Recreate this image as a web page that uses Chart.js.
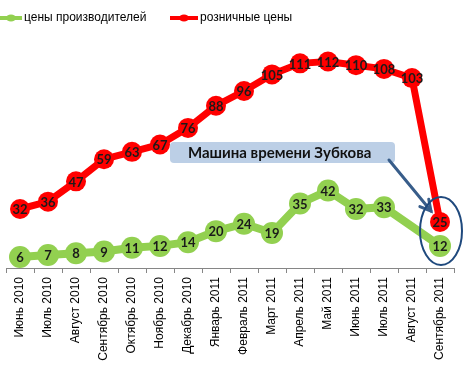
<!DOCTYPE html>
<html lang="ru">
<head>
  <meta charset="UTF-8">
  <title>Цены производителей и розничные цены</title>
  <script src="https://cdn.jsdelivr.net/npm/chart.js"></script>
  <style>
    html, body { margin: 0; padding: 0; background: #fff; overflow: hidden; }
    #wrap { position: relative; width: 464px; height: 368px; overflow: hidden; }
    #chart { position: absolute; left: -5px; top: 0; }
  </style>
</head>
<body>
<div id="wrap">
  <canvas id="chart" width="470" height="368"></canvas>
</div>
<script>
  const months = ['Июнь 2010', 'Июль 2010', 'Август 2010', 'Сентябрь 2010', 'Октябрь 2010', 'Ноябрь 2010',
    'Декабрь 2010', 'Январь 2011', 'Февраль 2011', 'Март 2011', 'Апрель 2011', 'Май 2011',
    'Июнь 2011', 'Июль 2011', 'Август 2011', 'Сентябрь 2011'];
  const producerPrices = [6, 7, 8, 9, 11, 12, 14, 20, 24, 19, 35, 42, 32, 33, null, 12];
  const retailPrices = [32, 36, 47, 59, 63, 67, 76, 88, 96, 105, 111, 112, 110, 108, 103, 25];
  const seriesNames = ['цены производителей', 'розничные цены'];
  const calloutText = 'Машина времени Зубкова';

  const GREEN = '#92D050';
  const RED = '#FF0000';
  const OFF = 5; // canvas is shifted 5px left of the page

  // value labels in the middle of each marker
  const valueLabels = {
    id: 'valueLabels',
    afterDatasetsDraw(chart) {
      const ctx = chart.ctx;
      ctx.save();
      ctx.font = 'bold 13px Lato';
      ctx.fillStyle = '#1a1a1a';
      ctx.textAlign = 'center';
      ctx.textBaseline = 'middle';
      chart.data.datasets.forEach((ds, i) => {
        chart.getDatasetMeta(i).data.forEach((pt, j) => {
          if (ds.data[j] == null) return;
          ctx.fillText(String(ds.data[j]), pt.x, pt.y + 1);
        });
      });
      ctx.restore();
    }
  };

  // legend in the top left corner, line with a dot like Excel
  const lineLegend = {
    id: 'lineLegend',
    afterDraw(chart) {
      const ctx = chart.ctx;
      ctx.save();
      ctx.translate(OFF, 0);
      const items = [
        { x: 0, w: 22, color: GREEN, text: seriesNames[0] },
        { x: 170, w: 28, color: RED, text: seriesNames[1] }
      ];
      const y = 18;
      ctx.font = '12px "Liberation Sans"';
      ctx.textBaseline = 'middle';
      items.forEach(it => {
        ctx.strokeStyle = it.color;
        ctx.lineWidth = 4;
        ctx.beginPath();
        ctx.moveTo(it.x, y);
        ctx.lineTo(it.x + it.w, y);
        ctx.stroke();
        ctx.fillStyle = it.color;
        ctx.beginPath();
        ctx.ellipse(it.x + it.w / 2, y, 5, 3.5, 0, 0, Math.PI * 2);
        ctx.fill();
        ctx.fillStyle = '#000';
        ctx.fillText(it.text, it.x + it.w + 2, y);
      });
      ctx.restore();
    }
  };

  // callout box, arrow and ellipse round the last month
  const callout = {
    id: 'callout',
    afterDraw(chart) {
      const ctx = chart.ctx;
      const xs = chart.scales.x, ys = chart.scales.y;
      const last = months.length - 1;
      const cx = xs.getPixelForValue(last);
      const cy = (ys.getPixelForValue(retailPrices[last]) + ys.getPixelForValue(producerPrices[last])) / 2;

      ctx.save();
      ctx.translate(OFF, 0);
      // box
      const bx = 170, by = 142, bw = 225, bh = 21, r = 4;
      ctx.fillStyle = '#BCCFE6';
      ctx.beginPath();
      ctx.roundRect(bx, by, bw, bh, r);
      ctx.fill();
      ctx.fillStyle = '#111';
      ctx.font = 'bold 15px Lato';
      ctx.textBaseline = 'middle';
      ctx.fillText(calloutText, 188, by + bh / 2 + 1);

      // arrow
      ctx.strokeStyle = '#385D8A';
      ctx.lineWidth = 3;
      ctx.lineCap = 'round';
      const x1 = 389, y1 = 160, x2 = 431, y2 = 211;
      ctx.beginPath();
      ctx.moveTo(x1, y1);
      ctx.lineTo(x2, y2);
      ctx.stroke();
      const a = Math.atan2(y2 - y1, x2 - x1);
      ctx.beginPath();
      ctx.moveTo(x2 - 12 * Math.cos(a - 0.5), y2 - 12 * Math.sin(a - 0.5));
      ctx.lineTo(x2, y2);
      ctx.lineTo(x2 - 12 * Math.cos(a + 0.5), y2 - 12 * Math.sin(a + 0.5));
      ctx.stroke();
      ctx.restore();

      // ellipse (canvas coords)
      ctx.save();
      ctx.strokeStyle = '#1F497D';
      ctx.lineWidth = 2;
      ctx.beginPath();
      ctx.ellipse(cx + 1, cy - 3, 21, 34, 0, 0, Math.PI * 2);
      ctx.stroke();
      ctx.restore();
    }
  };

  new Chart(document.getElementById('chart'), {
    type: 'line',
    data: {
      labels: months,
      datasets: [{
        label: seriesNames[0],
        data: producerPrices,
        borderColor: GREEN,
        backgroundColor: GREEN,
        borderWidth: 8,
        pointRadius: 11,
        pointBorderWidth: 0,
        pointBackgroundColor: GREEN,
        spanGaps: true,
        tension: 0
      }, {
        label: seriesNames[1],
        data: retailPrices,
        borderColor: RED,
        backgroundColor: RED,
        borderWidth: 7,
        pointRadius: 10,
        pointBorderWidth: 0,
        pointBackgroundColor: RED,
        tension: 0
      }]
    },
    options: {
      responsive: false,
      devicePixelRatio: 1,
      animation: false,
      layout: { padding: { top: 32, left: 0, right: 0, bottom: 0 } },
      plugins: {
        legend: { display: false },
        tooltip: { enabled: false }
      },
      scales: {
        x: {
          offset: true,
          grid: { offset: true, drawOnChartArea: false, drawTicks: true, tickLength: 5, color: '#868686' },
          border: { display: true, color: '#868686' },
          ticks: {
            autoSkip: false, minRotation: 90, maxRotation: 90, padding: 4,
            color: '#000', font: { family: 'Liberation Sans', size: 12 }
          },
          afterFit(scale) { scale.height = 100; }
        },
        y: { display: false, min: 0, max: 128 }
      }
    },
    plugins: [valueLabels, lineLegend, callout]
  });
</script>
</body>
</html>
